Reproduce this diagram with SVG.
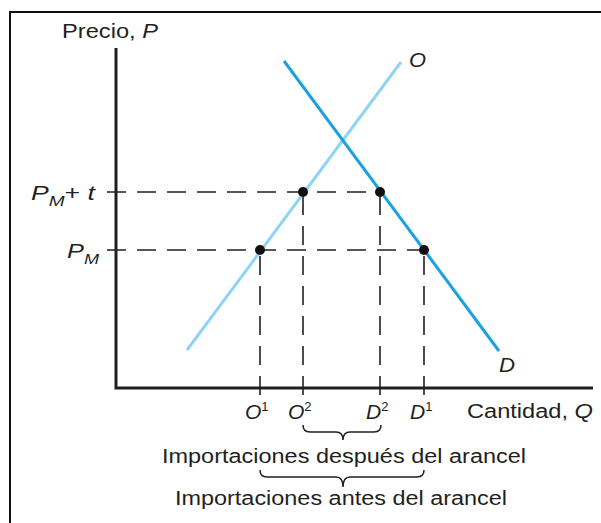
<svg xmlns="http://www.w3.org/2000/svg" width="601" height="523" viewBox="0 0 601 523">
<style>
text{font-family:"Liberation Sans",Arial,sans-serif;fill:#231f20;font-size:19.5px}
.it{font-style:italic}
.frame{stroke:#111;stroke-width:2;fill:none}
.axis{stroke:#231f20;stroke-width:3;fill:none}
.dash{stroke:#231f20;stroke-width:1.6;stroke-dasharray:19 11;fill:none}
.brace{stroke:#231f20;stroke-width:1.5;fill:none}
.dot{fill:#111}
.lbl{font-size:21px}
.sub{font-size:15px;font-style:italic}
.sup{font-size:13px}
</style>
<rect width="601" height="523" fill="#fff"/>
<path class="frame" d="M10,523 V12 H601"/>
<g id="axes">
<path class="axis" d="M116,48 V388 H593"/>
<text x="62" y="38" textLength="96" lengthAdjust="spacingAndGlyphs">Precio, <tspan class="it">P</tspan></text>
<text x="467" y="418" textLength="126" lengthAdjust="spacingAndGlyphs">Cantidad, <tspan class="it">Q</tspan></text>
</g>
<g id="connectors">
<path class="dash" d="M107,192 H380"/>
<path class="dash" d="M107,250 H424"/>
<path class="dash" d="M260,395 V250"/>
<path class="dash" d="M303,395 V192"/>
<path class="dash" d="M380,395 V192"/>
<path class="dash" d="M424,395 V250"/>
</g>
<g id="supply">
<line x1="187" y1="350" x2="401" y2="62" stroke="#8fd4f4" stroke-width="3"/>
<text class="it" x="409" y="67" textLength="17" lengthAdjust="spacingAndGlyphs">O</text>
</g>
<g id="demand">
<line x1="284" y1="61" x2="499" y2="351" stroke="#1ba1e2" stroke-width="3"/>
<text class="it" x="499" y="372" textLength="16" lengthAdjust="spacingAndGlyphs">D</text>
</g>
<g id="price-labels">
<text class="lbl" x="31" y="200" textLength="64" lengthAdjust="spacingAndGlyphs"><tspan class="it">P</tspan><tspan class="sub" dy="6">M</tspan><tspan dy="-6">+ </tspan><tspan class="it">t</tspan></text>
<text class="lbl" x="67" y="258" textLength="32" lengthAdjust="spacingAndGlyphs"><tspan class="it">P</tspan><tspan class="sub" dy="6">M</tspan></text>
</g>
<g id="points">
<circle class="dot" cx="260" cy="250" r="5"/>
<circle class="dot" cx="303" cy="192" r="5"/>
<circle class="dot" cx="380" cy="192" r="5"/>
<circle class="dot" cx="424" cy="250" r="5"/>
</g>
<g id="quantity-labels">
<text class="lbl" x="245" y="419"><tspan class="it">O</tspan><tspan class="sup" dy="-8">1</tspan></text>
<text class="lbl" x="288" y="419"><tspan class="it">O</tspan><tspan class="sup" dy="-8">2</tspan></text>
<text class="lbl" x="366" y="419"><tspan class="it">D</tspan><tspan class="sup" dy="-8">2</tspan></text>
<text class="lbl" x="410" y="419"><tspan class="it">D</tspan><tspan class="sup" dy="-8">1</tspan></text>
</g>
<g id="imports-after">
<path class="brace" d="M303,425 Q303,432 310,432 H336 Q343,432 343,440 Q343,432 350,432 H374 Q381,432 381,425"/>
<text x="162" y="463" textLength="364" lengthAdjust="spacingAndGlyphs">Importaciones después del arancel</text>
</g>
<g id="imports-before">
<path class="brace" d="M260,470 Q260,477 267,477 H336 Q343,477 343,487 Q343,477 350,477 H417 Q424,477 424,470"/>
<text x="175" y="505" textLength="332" lengthAdjust="spacingAndGlyphs">Importaciones antes del arancel</text>
</g>
</svg>
